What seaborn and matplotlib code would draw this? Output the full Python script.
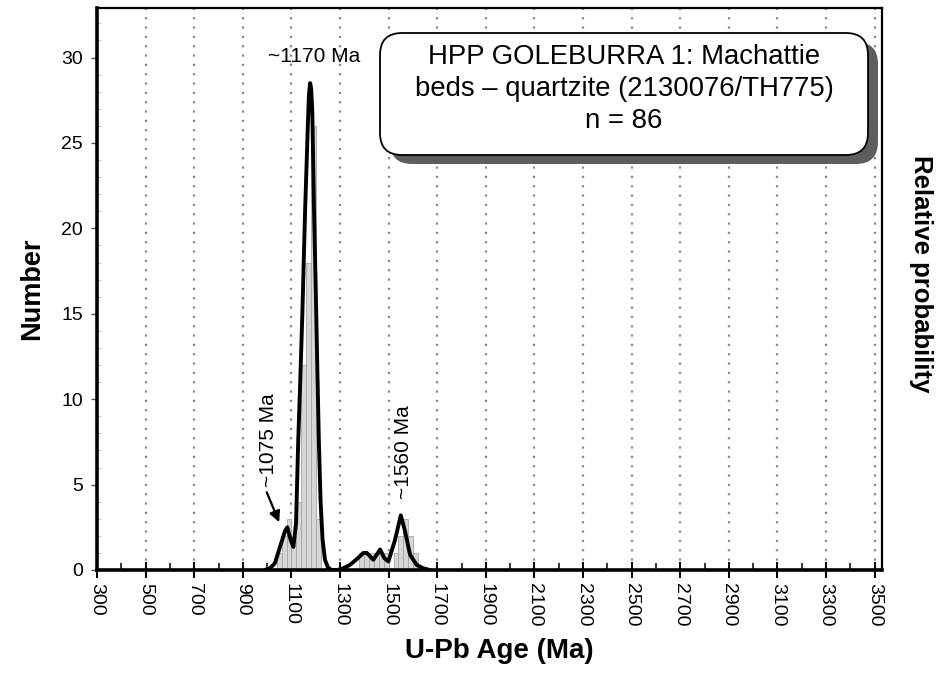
import pandas as pd
import seaborn as sns
import matplotlib.pyplot as plt
from matplotlib.patches import FancyBboxPatch
from matplotlib.ticker import MultipleLocator

# histogram (20 Ma bins, centre of bin -> count)
bin_centre = [1050, 1070, 1090, 1110, 1130, 1150, 1170, 1190, 1210,
              1390, 1410, 1430, 1450, 1470, 1490, 1530, 1550, 1570, 1590, 1610]
bin_count = [1, 2, 3, 2, 4, 12, 18, 26, 3,
             1, 1, 1, 1, 1, 1, 1, 2, 3, 2, 1]

# probability density curve, scaled to the Number axis
curve_age = [990, 1012, 1032, 1053, 1074, 1083, 1097, 1108, 1119, 1128, 1135,
             1145, 1156, 1167, 1172, 1177, 1181, 1186, 1193, 1200, 1207, 1213,
             1220, 1228, 1238, 1250, 1265, 1290, 1313, 1341, 1369, 1396, 1410,
             1437, 1465, 1482, 1499, 1526, 1550, 1567, 1588, 1615, 1642, 1670]
curve_val = [0.0, 0.1, 0.4, 1.35, 2.3, 2.5, 1.75, 1.35, 2.75, 7.6, 10.5,
             15.0, 20.9, 25.8, 27.8, 28.5, 28.2, 26.8, 21.0, 16.5, 11.5, 7.5,
             4.0, 1.8, 0.6, 0.15, 0.0, 0.0, 0.1, 0.3, 0.64, 1.0, 1.0,
             0.6, 1.2, 0.7, 0.5, 1.75, 3.2, 2.3, 0.9, 0.3, 0.1, 0.0]

age_ticks = list(range(300, 3600, 200))
number_ticks = [0, 5, 10, 15, 20, 25, 30]

title_lines = ["HPP GOLEBURRA 1: Machattie",
               "beds \u2013 quartzite (2130076/TH775)",
               "n = 86"]

hist_df = pd.DataFrame({'age': bin_centre, 'count': bin_count})
curve_df = pd.DataFrame({'age': curve_age, 'prob': curve_val})

sns.set_theme(style="white")
plt.rcParams['font.family'] = ['Liberation Sans', 'DejaVu Sans']
plt.rcParams['text.color'] = 'black'
plt.rcParams['xtick.color'] = 'black'
plt.rcParams['ytick.color'] = 'black'

fig = plt.figure(figsize=(9.49, 6.75), dpi=100)
ax = fig.add_axes([97 / 949, 1 - 570 / 675, 785 / 949, 562 / 675])

# dotted vertical grid
for t in age_ticks[1:]:
    ax.axvline(t, color='#8a8a8a', lw=1.6, linestyle=(0, (1, 3.2)), zorder=0)

sns.histplot(data=hist_df, x='age', weights='count', binwidth=20,
             binrange=(1040, 1620), color='#d6d6d6', edgecolor='#a5a5a5',
             linewidth=0.6, alpha=1, ax=ax)
sns.lineplot(data=curve_df, x='age', y='prob', color='black', lw=2.8, ax=ax,
             sort=False)
ax.lines[-1].set_zorder(3)

ax.set_xlim(300, 3530)
ax.set_ylim(0, 32.9)
ax.set_xticks(age_ticks)
ax.set_xticklabels([str(t) for t in age_ticks], rotation=-90, fontsize=14)
ax.xaxis.set_minor_locator(MultipleLocator(100))
ax.set_yticks(number_ticks)
ax.set_yticklabels([str(t) for t in number_ticks], fontsize=14)
ax.yaxis.set_minor_locator(MultipleLocator(1))
ax.tick_params(axis='x', which='major', direction='inout', length=11, width=1.4,
               color='black', labelcolor='black', pad=4, bottom=True)
ax.tick_params(axis='x', which='minor', direction='in', length=5, width=1.1,
               color='black', bottom=True)
ax.tick_params(axis='y', which='major', direction='out', length=4, width=1,
               color='#555555', labelcolor='black', left=True, pad=6)
ax.tick_params(axis='y', which='minor', direction='in', length=3, width=0.6,
               color='#bbbbbb', left=True)
for side in ['left', 'bottom']:
    ax.spines[side].set_linewidth(2.6)
    ax.spines[side].set_color('black')
for side in ['top', 'right']:
    ax.spines[side].set_linewidth(1.6)
    ax.spines[side].set_color('black')
for sp in ax.spines.values():
    sp.set_zorder(5)
ax.set_xlabel('')
ax.set_ylabel('')

fig.text(499 / 949, 1 - 651 / 675, 'U-Pb Age (Ma)', ha='center', va='center',
         fontsize=20, fontweight='bold', color='black')
fig.text(32 / 949, 1 - 289 / 675, 'Number', ha='center', va='center',
         rotation=90, fontsize=19.5, fontweight='bold', color='black')
fig.text(921 / 949, 1 - 274 / 675, 'Relative probability', ha='center',
         va='center', rotation=-90, fontsize=18.5, fontweight='bold',
         color='black')

# title box with shadow (inches)
shadow = FancyBboxPatch((3.90, 5.11), 4.88, 1.22,
                        boxstyle='round,pad=0,rounding_size=0.22',
                        transform=fig.dpi_scale_trans, facecolor='#5e5e5e',
                        edgecolor='none', zorder=6, clip_on=False)
box = FancyBboxPatch((3.80, 5.20), 4.88, 1.22,
                     boxstyle='round,pad=0,rounding_size=0.22',
                     transform=fig.dpi_scale_trans, facecolor='white',
                     edgecolor='black', lw=1.3, zorder=7, clip_on=False)
ax.add_patch(shadow)
ax.add_patch(box)
fig.text(624 / 949, 1 - 89 / 675, '\n'.join(title_lines), ha='center',
         va='center', fontsize=19.8, linespacing=1.28, zorder=8, color='black')

# peak annotations
ax.text(1193, 30.05, '~1170 Ma', ha='center', va='center', fontsize=15,
        zorder=8, color='black')
ax.text(1563, 6.9, '~1560 Ma', ha='center', va='center', rotation=90,
        fontsize=15, zorder=8, color='black')
ax.text(1004, 7.6, '~1075 Ma', ha='center', va='center', rotation=90,
        fontsize=15, zorder=8, color='black')
ax.annotate('', xy=(1054, 2.65), xytext=(994, 4.7),
            arrowprops=dict(arrowstyle='-|>', color='black', lw=1.6,
                            mutation_scale=16), zorder=8)

fig.savefig('out.png', dpi=100)
